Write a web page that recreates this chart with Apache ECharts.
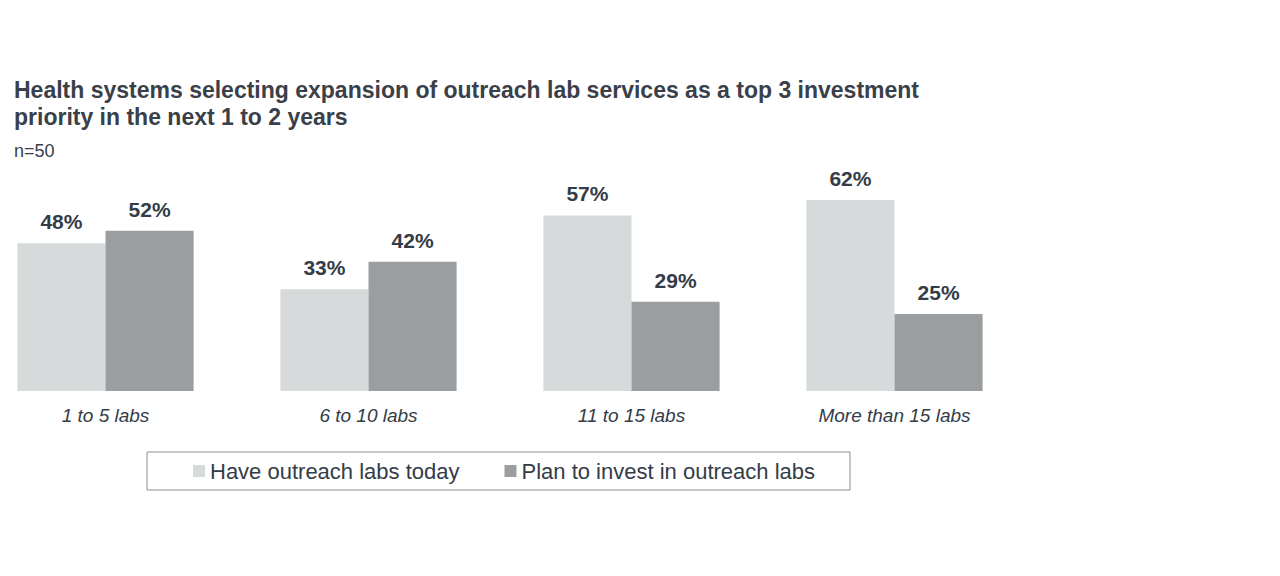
<!DOCTYPE html>
<html>
<head>
<meta charset="utf-8">
<script src="https://cdn.jsdelivr.net/npm/echarts@6/dist/echarts.min.js"></script>
<style>
  html, body { margin: 0; padding: 0; background: #fff; }
  #chart { width: 1280px; height: 576px; }
</style>
</head>
<body>
<div id="chart"></div>
<script>
var categories = ['1 to 5 labs', '6 to 10 labs', '11 to 15 labs', 'More than 15 labs'];
var haveToday = [48, 33, 57, 62];
var planInvest = [52, 42, 29, 25];
var seriesNames = ['Have outreach labs today', 'Plan to invest in outreach labs'];

(function() {
  var ink = '#333c47';
  var light = '#d7dadb';
  var dark = '#9a9ea1';
  var font = 'Liberation Sans, Arial, sans-serif';

  var chart = echarts.init(document.getElementById('chart'), null, { renderer: 'svg' });

  function barSeries(name, data, color) {
    return {
      name: name,
      type: 'bar',
      data: data,
      barGap: '0%',
      barCategoryGap: '33%',
      itemStyle: { color: color },
      label: {
        show: true,
        position: 'top',
        distance: 11,
        formatter: '{c}%',
        color: ink,
        fontSize: 21,
        fontWeight: 'bold',
        fontFamily: font
      }
    };
  }

  chart.setOption({
    animation: false,
    textStyle: { fontFamily: font },
    title: [
      {
        text: 'Health systems selecting expansion of outreach lab services as a top 3 investment\npriority in the next 1 to 2 years',
        left: 14,
        top: 76,
        padding: 0,
        textStyle: { color: '#3a4049', fontSize: 23, fontWeight: 'bold', lineHeight: 27, fontFamily: font }
      },
      {
        text: 'n=50',
        left: 14,
        top: 142,
        padding: 0,
        textStyle: { color: '#3a4049', fontSize: 18, fontWeight: 'normal', fontFamily: font }
      }
    ],
    legend: {
      data: seriesNames,
      left: 147,
      top: 452,
      padding: [8, 35, 8, 46],
      borderColor: '#8a8d90',
      borderWidth: 1,
      itemWidth: 12,
      itemHeight: 12,
      itemGap: 45,
      icon: 'rect',
      textStyle: { color: ink, fontSize: 22, fontFamily: font }
    },
    grid: { left: -26, right: 254, top: 83, bottom: 185, outerBoundsMode: 'none' },
    xAxis: {
      type: 'category',
      data: categories,
      axisLine: { show: false },
      axisTick: { show: false },
      axisLabel: { color: ink, fontSize: 19, fontStyle: 'italic', margin: 15, fontFamily: font }
    },
    yAxis: {
      type: 'value',
      min: 0,
      max: 100,
      show: false
    },
    series: [
      barSeries(seriesNames[0], haveToday, light),
      barSeries(seriesNames[1], planInvest, dark)
    ]
  });
})();
</script>
</body>
</html>
